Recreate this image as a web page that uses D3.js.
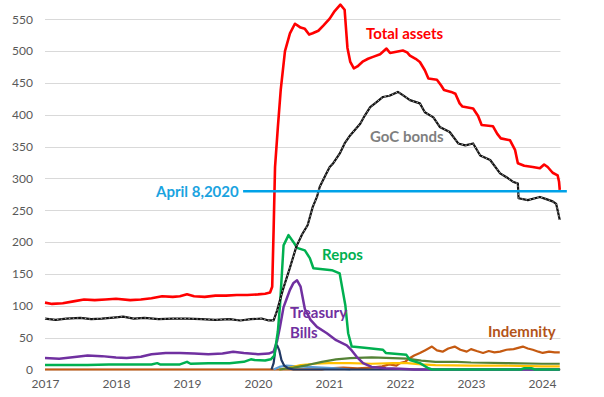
<!DOCTYPE html>
<html>
<head>
<meta charset="utf-8">
<script src="https://cdn.jsdelivr.net/npm/d3@7"></script>
<style>
  body { margin: 0; background: #fff; }
  svg { font-family: Lato, "Open Sans", sans-serif; }
</style>
</head>
<body>
<div id="chart"></div>
<script>
// Bank of Canada balance sheet items, $ billions, by decimal year

const yTicks = [0, 50, 100, 150, 200, 250, 300, 350, 400, 450, 500, 550];
const xTicks = [2017, 2018, 2019, 2020, 2021, 2022, 2023, 2024];

const totalAssets = [
    [2017.0,105],[2017.1,103],[2017.25,104],[2017.4,107],[2017.55,110],[2017.7,109],[2017.85,110],
    [2018.0,111],[2018.2,109],[2018.35,110],[2018.5,112],[2018.65,115],[2018.8,114],[2018.9,115],
    [2019.0,118],[2019.1,115],[2019.25,114],[2019.4,116],[2019.55,116],[2019.7,117],[2019.85,117],
    [2020.0,118],[2020.1,119],[2020.17,121],[2020.2,130],[2020.22,220],[2020.24,318],[2020.28,381],
    [2020.32,439],[2020.38,500],[2020.45,528],[2020.52,543],[2020.56,540],[2020.6,537],[2020.66,535],
    [2020.72,526],[2020.77,528],[2020.85,532],[2020.92,540],[2021.01,551],[2021.08,563],[2021.16,573],
    [2021.22,565],[2021.26,505],[2021.3,483],[2021.35,473],[2021.4,476],[2021.48,484],[2021.55,488],
    [2021.62,491],[2021.72,495],[2021.81,504],[2021.86,497],[2021.95,499],[2022.04,501],[2022.1,498],
    [2022.14,493],[2022.22,488],[2022.28,483],[2022.35,470],[2022.4,457],[2022.52,455],[2022.58,446],
    [2022.62,439],[2022.72,436],[2022.78,433],[2022.84,418],[2022.88,413],[2023.03,410],[2023.1,398],
    [2023.15,384],[2023.31,382],[2023.37,370],[2023.42,363],[2023.55,360],[2023.62,345],[2023.66,324],
    [2023.75,320],[2023.87,318],[2023.97,316],[2024.03,322],[2024.08,318],[2024.15,309],[2024.22,305],
    [2024.24,295],[2024.25,282]
];

const gocBonds = [
    [2017.0,80],[2017.15,78],[2017.3,80],[2017.5,81],[2017.65,79],[2017.8,80],[2018.0,82],[2018.1,83],
    [2018.25,80],[2018.4,81],[2018.6,79],[2018.8,80],[2019.0,80],[2019.2,79],[2019.4,78],[2019.6,79],
    [2019.75,77],[2019.9,79],[2020.05,80],[2020.15,77],[2020.22,77],[2020.27,93],[2020.35,125],
    [2020.45,160],[2020.54,193],[2020.62,212],[2020.7,227],[2020.77,255],[2020.83,271],[2020.87,287],
    [2020.95,305],[2021.01,318],[2021.06,324],[2021.15,339],[2021.22,355],[2021.3,368],[2021.37,377],
    [2021.44,386],[2021.5,398],[2021.58,412],[2021.67,420],[2021.76,428],[2021.85,430],[2021.97,436],
    [2022.05,430],[2022.14,423],[2022.28,418],[2022.35,404],[2022.47,396],[2022.56,381],[2022.7,373],
    [2022.82,355],[2022.92,352],[2023.03,355],[2023.13,336],[2023.27,329],[2023.41,308],[2023.5,302],
    [2023.59,295],[2023.66,292],[2023.67,269],[2023.8,266],[2023.97,271],[2024.05,268],[2024.15,264],
    [2024.2,260],[2024.22,250],[2024.25,235]
];

const repos = [
    [2017.0,7],[2017.3,7],[2017.6,7],[2017.9,8],[2018.2,8],[2018.5,8],[2018.58,10],[2018.62,8],
    [2018.9,8],[2019.0,12],[2019.05,9],[2019.3,10],[2019.6,10],[2019.8,12],[2019.9,16],[2019.95,15],
    [2020.1,14],[2020.18,16],[2020.23,22],[2020.28,60],[2020.31,101],[2020.36,195],[2020.43,211],
    [2020.5,200],[2020.55,191],[2020.66,187],[2020.73,175],[2020.78,159],[2021.04,156],[2021.15,151],
    [2021.23,101],[2021.27,57],[2021.32,36],[2021.5,34],[2021.76,31],[2021.8,26],[2022.09,23],
    [2022.14,15],[2022.28,10],[2022.4,2],[2022.45,0],[2023.7,0],[2023.75,2],[2023.85,2],[2023.9,0],
    [2024.25,0]
];

const treasuryBills = [
    [2017.0,18],[2017.2,17],[2017.45,20],[2017.6,22],[2017.8,21],[2018.0,19],[2018.15,18],[2018.35,20],
    [2018.5,24],[2018.7,26],[2018.9,26],[2019.1,25],[2019.3,24],[2019.5,25],[2019.65,28],[2019.8,26],
    [2020.0,24],[2020.15,25],[2020.22,28],[2020.27,45],[2020.31,67],[2020.36,98],[2020.4,110],
    [2020.45,125],[2020.5,136],[2020.55,140],[2020.6,130],[2020.66,95],[2020.74,78],[2020.83,67],
    [2020.97,57],[2021.1,46],[2021.25,38],[2021.32,30],[2021.39,20],[2021.48,10],[2021.6,4],
    [2021.8,2],[2022.0,1],[2022.2,0],[2024.25,0]
];

const indemnity = [
    [2017.0,0],[2020.9,0],[2021.0,2],[2021.2,3],[2021.4,2],[2021.6,3],[2021.75,5],[2021.85,8],
    [2021.95,6],[2022.0,10],[2022.07,12],[2022.14,18],[2022.2,22],[2022.28,26],[2022.35,30],
    [2022.45,36],[2022.52,30],[2022.6,28],[2022.68,33],[2022.77,36],[2022.85,31],[2022.94,28],
    [2023.0,32],[2023.08,29],[2023.17,26],[2023.25,29],[2023.33,27],[2023.41,28],[2023.5,31],
    [2023.6,32],[2023.73,36],[2023.8,33],[2023.87,31],[2023.95,28],[2024.01,26],[2024.1,28],
    [2024.18,27],[2024.25,27]
];

const otherGold = [
    [2020.3,0],[2020.45,3],[2020.6,7],[2020.8,9],[2021.0,10],[2021.3,10],[2021.6,9],[2021.9,10],
    [2022.1,10],[2022.3,8],[2022.5,7],[2023.0,6],[2023.5,6],[2024.0,5],[2024.25,5]
];

const otherGreen = [
    [2020.3,0],[2020.5,3],[2020.7,7],[2020.9,12],[2021.1,16],[2021.3,18],[2021.6,19],[2021.9,18],
    [2022.1,17],[2022.3,14],[2022.5,12],[2022.8,12],[2023.0,11],[2023.5,10],[2024.0,9],[2024.25,9]
];

const otherLightBlue = [
    [2020.22,0],[2020.3,4],[2020.4,6],[2020.55,5],[2020.7,4],[2020.9,3],[2021.1,2],[2021.3,0]
];

const otherNavy = [
    [2020.19,0],[2020.22,10],[2020.25,35],[2020.27,38],[2020.3,30],[2020.33,15],[2020.37,6],
    [2020.42,2],[2020.5,0],[2024.25,0]
];

const april8Level = [[2019.79,280],[2024.35,280]];

const width = 604, height = 397;

const svg = d3.select('#chart')
    .append('svg')
    .attr('width', width)
    .attr('height', height);

const x = d3.scaleLinear().domain([2017, 2024]).range([45, 542]);
const y = d3.scaleLinear().domain([0, 550]).range([369.5, 19.3]);
const plotRight = x(2024.26);

// gridlines
svg.append('g')
    .selectAll('line')
    .data(yTicks.filter(d => d > 0))
    .enter()
    .append('line')
    .attr('x1', x(2017))
    .attr('x2', plotRight)
    .attr('y1', d => Math.round(y(d)) + 0.5)
    .attr('y2', d => Math.round(y(d)) + 0.5)
    .attr('stroke', '#d9d9d9')
    .attr('stroke-width', 1);

// y axis labels
const yAxis = d3.axisLeft(y).tickValues(yTicks).tickSize(0).tickPadding(0);
const gy = svg.append('g')
    .attr('transform', 'translate(33,0)')
    .call(yAxis);
gy.select('.domain').remove();
gy.selectAll('text')
    .attr('font-family', 'Lato, sans-serif')
    .attr('font-size', '12px')
    .attr('fill', '#595959');

// x axis
const xAxis = d3.axisBottom(x).tickValues(xTicks).tickSize(0).tickPadding(10).tickFormat(d3.format('d'));
const gx = svg.append('g')
    .attr('transform', `translate(0,${y(0)})`)
    .call(xAxis);
gx.select('.domain').remove();
gx.selectAll('text')
    .attr('font-family', 'Lato, sans-serif')
    .attr('font-size', '12px')
    .attr('fill', '#595959');

svg.append('line')
    .attr('x1', x(2017))
    .attr('x2', plotRight)
    .attr('y1', y(0))
    .attr('y2', y(0))
    .attr('stroke', '#808080')
    .attr('stroke-width', 1.5);

const line = d3.line()
    .x(d => x(d[0]))
    .y(d => y(d[1]))
    .curve(d3.curveLinear);

function drawSeries(data, color, w) {
    return svg.append('path')
        .datum(data)
        .attr('d', line)
        .attr('fill', 'none')
        .attr('stroke', color)
        .attr('stroke-width', w)
        .attr('stroke-linejoin', 'round');
}

drawSeries(indemnity, '#c55a11', 2.2);
drawSeries(otherLightBlue, '#5b9bd5', 2.2);
drawSeries(otherGold, '#ffc000', 2.2);
drawSeries(otherGreen, '#548235', 2.2);
drawSeries(otherNavy, '#203864', 2.2);
drawSeries(treasuryBills, '#7030a0', 2.5);
drawSeries(repos, '#00b050', 2.5);
drawSeries(gocBonds, '#111111', 2.2);
// dotted sheen on GoC bonds line
drawSeries(gocBonds, '#a6a6a6', 1)
    .attr('stroke-dasharray', '1.5,2.5');
drawSeries(totalAssets, '#ff0000', 2.6);
drawSeries(april8Level, '#00a2e8', 2.5);

// series labels
const labels = [
    { text: 'Total assets', x: 366, y: 34, color: '#ff0000' },
    { text: 'GoC bonds', x: 370, y: 137, color: '#7f7f7f' },
    { text: 'April 8,2020', x: 156, y: 192, color: '#1aa3e0' },
    { text: 'Repos', x: 322, y: 255, color: '#00b050' },
    { text: 'Treasury', x: 290, y: 313, color: '#7030a0' },
    { text: 'Bills', x: 290, y: 333, color: '#7030a0' },
    { text: 'Indemnity', x: 488, y: 332, color: '#b35419' }
];

svg.append('g')
    .selectAll('text')
    .data(labels)
    .enter()
    .append('text')
    .attr('x', d => d.x)
    .attr('y', d => d.y)
    .attr('dy', '0.35em')
    .attr('font-size', '15px')
    .attr('font-weight', 'bold')
    .attr('fill', d => d.color)
    .text(d => d.text);
</script>
</body>
</html>
